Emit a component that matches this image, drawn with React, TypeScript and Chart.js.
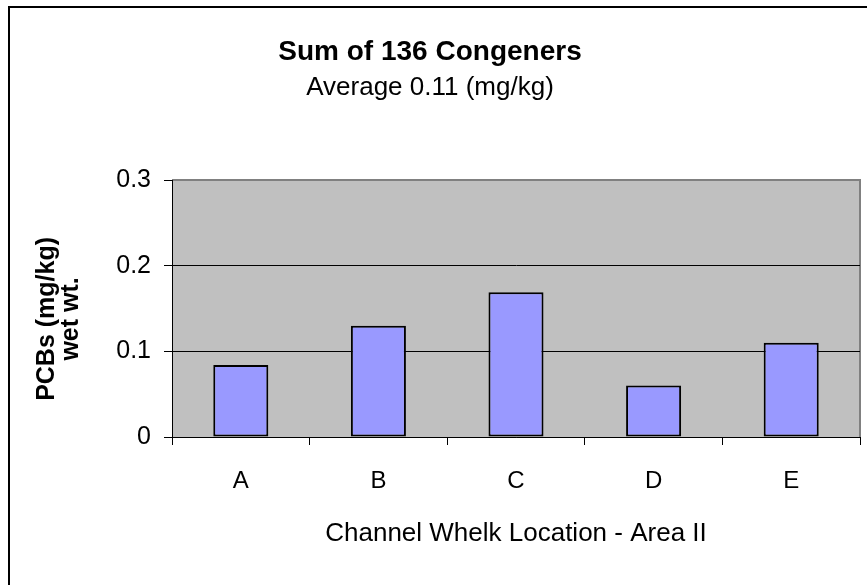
import React, { useEffect, useRef } from 'react';
import { Chart, registerables } from 'chart.js';

Chart.register(...registerables);

const categories = ['A', 'B', 'C', 'D', 'E'];
const pcbValues = [0.084, 0.13, 0.169, 0.06, 0.11];
const yTickValues = [0, 0.1, 0.2, 0.3];
const titleText = 'Sum of 136 Congeners';
const subtitleText = 'Average 0.11 (mg/kg)';
const yTitleLines = ['PCBs (mg/kg)   ', 'wet wt.   '];
const xTitleText = 'Channel Whelk Location - Area II';

const FONT = '"Liberation Sans", Arial, Helvetica, sans-serif';

const framePlugin = {
  id: 'frameAndPlot',
  beforeDraw(chart: any) {
    const { ctx, chartArea: a } = chart;
    ctx.save();
    ctx.fillStyle = '#C0C0C0';
    ctx.fillRect(a.left, a.top, a.right - a.left, a.bottom - a.top);
    ctx.strokeStyle = '#808080';
    ctx.lineWidth = 2;
    ctx.beginPath();
    ctx.moveTo(a.left, a.top);
    ctx.lineTo(a.right, a.top);
    ctx.lineTo(a.right, a.bottom);
    ctx.stroke();
    ctx.strokeStyle = '#000';
    ctx.lineWidth = 2;
    ctx.strokeRect(9, 7, 1000, 1000);
    ctx.restore();
  },
};

export default function App() {
  const canvasRef = useRef<HTMLCanvasElement | null>(null);

  useEffect(() => {
    const canvas = canvasRef.current;
    if (!canvas) return;
    const chart = new Chart(canvas, {
      type: 'bar',
      data: {
        labels: categories,
        datasets: [
          {
            data: pcbValues,
            backgroundColor: '#9999FF',
            borderColor: '#000000',
            borderWidth: 2,
            borderSkipped: false,
            barPercentage: 0.4,
            categoryPercentage: 1.0,
          },
        ],
      },
      options: {
        responsive: false,
        animation: false,
        devicePixelRatio: 1,
        layout: { padding: { left: 0, right: 7, top: 0, bottom: 0 } },
        plugins: {
          legend: { display: false },
          tooltip: { enabled: false },
          title: {
            display: true,
            text: titleText,
            color: '#000',
            font: { family: FONT, size: 28, weight: 'bold', lineHeight: 1.0 },
            padding: { top: 38.5, bottom: 0 },
          },
          subtitle: {
            display: true,
            text: subtitleText,
            color: '#000',
            font: { family: FONT, size: 26, weight: 'normal', lineHeight: 1.0 },
            padding: { top: 8, bottom: 79.5 },
          },
        },
        scales: {
          x: {
            offset: true,
            afterFit(scale: any) {
              scale.height = 148;
            },
            grid: {
              offset: true,
              drawOnChartArea: false,
              drawTicks: true,
              tickLength: 8,
              color: '#000',
              tickColor: '#000',
            },
            border: { display: true, color: '#000', width: 1 },
            ticks: {
              color: '#000',
              padding: 21.6,
              font: { family: FONT, size: 24 },
              maxRotation: 0,
            },
            title: {
              display: true,
              text: xTitleText,
              color: '#000',
              font: { family: FONT, size: 26, lineHeight: 1.2 },
              padding: { top: 0, bottom: 35.5 },
            },
          },
          y: {
            min: 0,
            max: 0.3,
            afterFit(scale: any) {
              scale.width = 172;
            },
            afterBuildTicks(scale: any) {
              scale.ticks = yTickValues.map((v) => ({ value: v }));
            },
            grid: {
              drawOnChartArea: true,
              drawTicks: true,
              tickLength: 8,
              color: (c: any) => (c.tick && c.tick.value === 0.3 ? '#808080' : '#000'),
              tickColor: '#000',
              lineWidth: 1,
            },
            border: { display: true, color: '#000', width: 1 },
            ticks: {
              color: '#000',
              padding: 13,
              font: { family: FONT, size: 25 },
              callback: (v: any) => String(Math.round(Number(v) * 10) / 10),
            },
            title: {
              display: true,
              text: yTitleLines,
              color: '#000',
              font: { family: FONT, size: 25, weight: 'bold', lineHeight: 0.96 },
              padding: { top: 35, bottom: 0 },
            },
          },
        },
      },
      plugins: [framePlugin],
    });
    return () => chart.destroy();
  }, []);

  return (
    <div style={{ position: 'fixed', left: 0, top: 0, width: 867, height: 585, background: '#fff' }}>
      <canvas ref={canvasRef} width={867} height={585} style={{ display: 'block', width: 867, height: 585 }} />
    </div>
  );
}
